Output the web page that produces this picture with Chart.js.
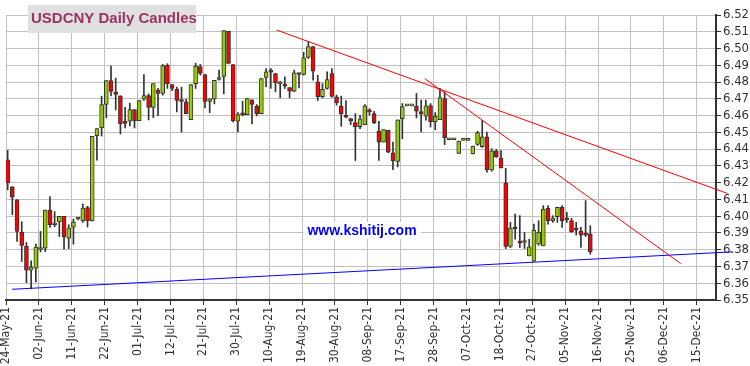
<!DOCTYPE html>
<html>
<head>
<meta charset="utf-8">
<title>USDCNY Daily Candles</title>
<script src="https://cdn.jsdelivr.net/npm/chart.js@4.4.1/dist/chart.umd.min.js"></script>
<style>
  html, body { margin: 0; padding: 0; background: #fff; }
  #wrap { width: 750px; height: 366px; }
</style>
</head>
<body>
<div id="wrap"><canvas id="candleChart" width="750" height="366"></canvas></div>
<script>
// daily OHLC, one entry per weekday from 24-May-21 to 12-Nov-21
const openPrices = [
  6.4336, 6.4175, 6.4097, 6.3905, 6.3821, 6.3678, 6.3690, 6.3801, 6.3809, 6.4037,
  6.3949, 6.3965, 6.3999, 6.3869, 6.3935, 6.3983, 6.3971, 6.4051, 6.3971, 6.4480,
  6.4528, 6.4666, 6.4809, 6.4738, 6.4718, 6.4556, 6.4566, 6.4636, 6.4570, 6.4698,
  6.4720, 6.4648, 6.4752, 6.4732, 6.4901, 6.4785, 6.4756, 6.4688, 6.4682, 6.4576,
  6.4791, 6.4893, 6.4845, 6.4684, 6.4700, 6.4815, 6.4833, 6.5103, 6.4905, 6.4566,
  6.4606, 6.4606, 6.4694, 6.4656, 6.4612, 6.4827, 6.4861, 6.4851, 6.4789, 6.4779,
  6.4767, 6.4745, 6.4847, 6.4845, 6.4947, 6.5011, 6.4801, 6.4713, 6.4762, 6.4851,
  6.4712, 6.4656, 6.4602, 6.4582, 6.4558, 6.4534, 6.4546, 6.4634, 6.4612, 6.4508,
  6.4442, 6.4512, 6.4378, 6.4326, 6.4582, 6.4658, 6.4658, 6.4656, 6.4616, 6.4596,
  6.4660, 6.4564, 6.4576, 6.4702, 6.4456, 6.4456, 6.4374, 6.4452, 6.4452, 6.4372,
  6.4428, 6.4414, 6.4474, 6.4276, 6.4390, 6.4346, 6.4199, 6.3819, 6.3929, 6.3841,
  6.3843, 6.3763, 6.3732, 6.3833, 6.3823, 6.4047, 6.3973, 6.3997, 6.4053, 6.3981,
  6.3973, 6.3919, 6.3909, 6.3891, 6.3893
];
const highPrices = [
  6.4392, 6.4177, 6.4099, 6.3967, 6.3843, 6.3734, 6.3833, 6.3909, 6.4037, 6.4117,
  6.4027, 6.3999, 6.3999, 6.3949, 6.3983, 6.3990, 6.4073, 6.4059, 6.4476, 6.4522,
  6.4716, 6.4809, 6.4895, 6.4823, 6.4718, 6.4650, 6.4674, 6.4636, 6.4690, 6.4845,
  6.4730, 6.4791, 6.4762, 6.4905, 6.4909, 6.4785, 6.4770, 6.4770, 6.4698, 6.4785,
  6.4913, 6.4905, 6.4845, 6.4700, 6.4811, 6.4871, 6.5107, 6.5103, 6.4905, 6.4618,
  6.4686, 6.4702, 6.4694, 6.4666, 6.4821, 6.4881, 6.4881, 6.4851, 6.4805, 6.4831,
  6.4767, 6.4871, 6.4850, 6.4977, 6.5041, 6.5011, 6.4841, 6.4791, 6.4861, 6.4881,
  6.4722, 6.4716, 6.4690, 6.4582, 6.4612, 6.4602, 6.4666, 6.4642, 6.4626, 6.4566,
  6.4516, 6.4512, 6.4442, 6.4574, 6.4672, 6.4658, 6.4658, 6.4732, 6.4692, 6.4692,
  6.4672, 6.4618, 6.4762, 6.4742, 6.4456, 6.4456, 6.4448, 6.4452, 6.4452, 6.4418,
  6.4506, 6.4572, 6.4502, 6.4402, 6.4398, 6.4392, 6.4286, 6.3963, 6.4013, 6.4003,
  6.3903, 6.3863, 6.3953, 6.3973, 6.4063, 6.4063, 6.4003, 6.4053, 6.4063, 6.4023,
  6.3987, 6.3963, 6.3933, 6.4093, 6.3943
];
const lowPrices = [
  6.4157, 6.4009, 6.3849, 6.3730, 6.3604, 6.3568, 6.3608, 6.3787, 6.3789, 6.3933,
  6.3937, 6.3879, 6.3803, 6.3807, 6.3833, 6.3978, 6.3963, 6.3935, 6.3971, 6.4334,
  6.4478, 6.4586, 6.4718, 6.4634, 6.4490, 6.4526, 6.4538, 6.4526, 6.4570, 6.4690,
  6.4574, 6.4588, 6.4600, 6.4722, 6.4762, 6.4749, 6.4622, 6.4502, 6.4612, 6.4576,
  6.4762, 6.4841, 6.4646, 6.4618, 6.4670, 6.4811, 6.4730, 6.4911, 6.4562, 6.4502,
  6.4598, 6.4606, 6.4550, 6.4598, 6.4612, 6.4772, 6.4762, 6.4742, 6.4706, 6.4762,
  6.4706, 6.4742, 6.4765, 6.4841, 6.4941, 6.4811, 6.4690, 6.4706, 6.4758, 6.4710,
  6.4662, 6.4536, 6.4586, 6.4546, 6.4332, 6.4522, 6.4546, 6.4602, 6.4552, 6.4332,
  6.4442, 6.4378, 6.4278, 6.4294, 6.4462, 6.4658, 6.4658, 6.4586, 6.4502, 6.4572,
  6.4532, 6.4516, 6.4576, 6.4426, 6.4456, 6.4456, 6.4374, 6.4452, 6.4452, 6.4372,
  6.4422, 6.4410, 6.4262, 6.4268, 6.4350, 6.4288, 6.3807, 6.3813, 6.3863, 6.3813,
  6.3807, 6.3763, 6.3732, 6.3827, 6.3823, 6.3953, 6.3963, 6.3963, 6.3933, 6.3963,
  6.3903, 6.3887, 6.3813, 6.3879, 6.3773
];
const closePrices = [
  6.4199, 6.4113, 6.3909, 6.3825, 6.3678, 6.3696, 6.3815, 6.3803, 6.4037, 6.3949,
  6.3959, 6.3999, 6.3877, 6.3931, 6.3965, 6.3985, 6.4049, 6.3971, 6.4476, 6.4522,
  6.4666, 6.4809, 6.4744, 6.4726, 6.4552, 6.4554, 6.4636, 6.4570, 6.4690, 6.4720,
  6.4648, 6.4791, 6.4732, 6.4899, 6.4791, 6.4762, 6.4690, 6.4684, 6.4612, 6.4785,
  6.4895, 6.4851, 6.4684, 6.4700, 6.4811, 6.4827, 6.5107, 6.4911, 6.4568, 6.4606,
  6.4604, 6.4702, 6.4666, 6.4612, 6.4821, 6.4861, 6.4859, 6.4797, 6.4789, 6.4775,
  6.4745, 6.4855, 6.4845, 6.4945, 6.5011, 6.4865, 6.4713, 6.4756, 6.4815, 6.4715,
  6.4676, 6.4612, 6.4590, 6.4566, 6.4534, 6.4580, 6.4658, 6.4622, 6.4558, 6.4442,
  6.4516, 6.4382, 6.4330, 6.4574, 6.4654, 6.4658, 6.4658, 6.4626, 6.4612, 6.4658,
  6.4564, 6.4596, 6.4708, 6.4468, 6.4456, 6.4456, 6.4448, 6.4452, 6.4452, 6.4418,
  6.4498, 6.4474, 6.4276, 6.4390, 6.4354, 6.4288, 6.3819, 6.3929, 6.3925, 6.3839,
  6.3843, 6.3817, 6.3917, 6.3903, 6.4043, 6.3973, 6.3989, 6.4053, 6.3973, 6.3977,
  6.3907, 6.3917, 6.3887, 6.3887, 6.3789
];

// x axis labels, one every 7 trading days
const tickLabels = [
  '24-May-21', '02-Jun-21', '11-Jun-21', '22-Jun-21', '01-Jul-21', '12-Jul-21',
  '21-Jul-21', '30-Jul-21', '10-Aug-21', '19-Aug-21', '30-Aug-21', '08-Sep-21',
  '17-Sep-21', '28-Sep-21', '07-Oct-21', '18-Oct-21', '27-Oct-21', '05-Nov-21',
  '16-Nov-21', '25-Nov-21', '06-Dec-21', '15-Dec-21'
];

// trend lines as [trading day index, price] end points
const upperTrend = [[57.6, 6.5110], [153.5, 6.4136]];
const steepTrend = [[89.1, 6.4821], [143.6, 6.3717]];
const supportTrend = [[1.3, 6.3564], [154.5, 6.3787]];

const axisFont = "'DejaVu Sans Condensed', 'Liberation Sans', sans-serif";

const days = openPrices.map((_, i) => i + 0.35);
const bodyData = days.map((x, i) => ({ x: x, y: [openPrices[i], closePrices[i]] }));
const wickData = days.map((x, i) => ({ x: x, y: [lowPrices[i], highPrices[i]] }));
const bodyColors = openPrices.map((o, i) => closePrices[i] >= o ? '#99cc00' : '#ff0000');
const toPoints = line => line.map(p => ({ x: p[0], y: p[1] }));

const trendLine = (line, color) => ({
  type: 'line',
  data: toPoints(line),
  borderColor: color,
  borderWidth: 1,
  pointRadius: 0,
  clip: false,
  order: 0
});

const decorations = {
  id: 'decorations',
  beforeDatasetsDraw(chart) {
    const ctx = chart.ctx;
    ctx.save();
    ctx.font = "bold 14px 'Liberation Sans', Arial, sans-serif";
    const w = ctx.measureText('www.kshitij.com').width;
    ctx.fillStyle = '#ffffff';
    ctx.fillRect(362 - w / 2 - 4, 222, w + 8, 17);
    ctx.fillStyle = '#0000ff';
    ctx.textAlign = 'center';
    ctx.textBaseline = 'middle';
    ctx.fillText('www.kshitij.com', 362, 231);
    ctx.restore();
  },
  afterDraw(chart) {
    const ctx = chart.ctx;
    ctx.save();
    ctx.fillStyle = '#e0e0e0';
    ctx.fillRect(28, 5, 168, 28);
    ctx.font = "bold 15px 'Liberation Sans', Arial, sans-serif";
    ctx.fillStyle = '#993366';
    ctx.textBaseline = 'middle';
    ctx.fillText('USDCNY Daily Candles', 31, 19);
    ctx.restore();
  }
};

new Chart(document.getElementById('candleChart'), {
  type: 'bar',
  data: {
    datasets: [
      trendLine(upperTrend, '#ff0000'),
      trendLine(steepTrend, '#ff0000'),
      trendLine(supportTrend, '#0000ff'),
      {
        label: 'Body',
        data: bodyData,
        backgroundColor: bodyColors,
        borderColor: '#333333',
        borderWidth: 1,
        borderSkipped: false,
        barThickness: 4,
        minBarLength: 2,
        grouped: false,
        order: 1
      },
      {
        label: 'Wick',
        data: wickData,
        backgroundColor: '#333333',
        borderWidth: 0,
        barThickness: 1,
        grouped: false,
        order: 2
      }
    ]
  },
  options: {
    responsive: false,
    animation: false,
    layout: { padding: { left: 6, top: 15, right: 0, bottom: 0 } },
    plugins: {
      legend: { display: false },
      tooltip: { enabled: false }
    },
    scales: {
      x: {
        type: 'linear',
        min: 0,
        max: 151.1,
        offset: false,
        afterBuildTicks: scale => {
          scale.ticks = tickLabels.map((_, k) => ({ value: k * 7 }));
        },
        afterFit: scale => { scale.height = 66; },
        grid: { color: '#c0c0c0', offset: false, tickColor: '#333333', tickLength: 5 },
        border: { color: '#333333', width: 2 },
        ticks: {
          autoSkip: false,
          maxRotation: 90,
          minRotation: 90,
          padding: 2,
          color: '#333333',
          font: { family: axisFont, size: 12 },
          callback: (value, index) => tickLabels[index]
        }
      },
      y: {
        position: 'right',
        min: 6.35,
        max: 6.52,
        afterFit: scale => { scale.width = 34; },
        grid: { color: '#c0c0c0', tickColor: '#333333', tickLength: 5 },
        border: { color: '#333333', width: 2 },
        ticks: {
          stepSize: 0.01,
          autoSkip: false,
          padding: 2,
          color: '#333333',
          font: { family: axisFont, size: 13 },
          callback: value => value.toFixed(2)
        }
      }
    }
  },
  plugins: [decorations]
});
</script>
</body>
</html>
